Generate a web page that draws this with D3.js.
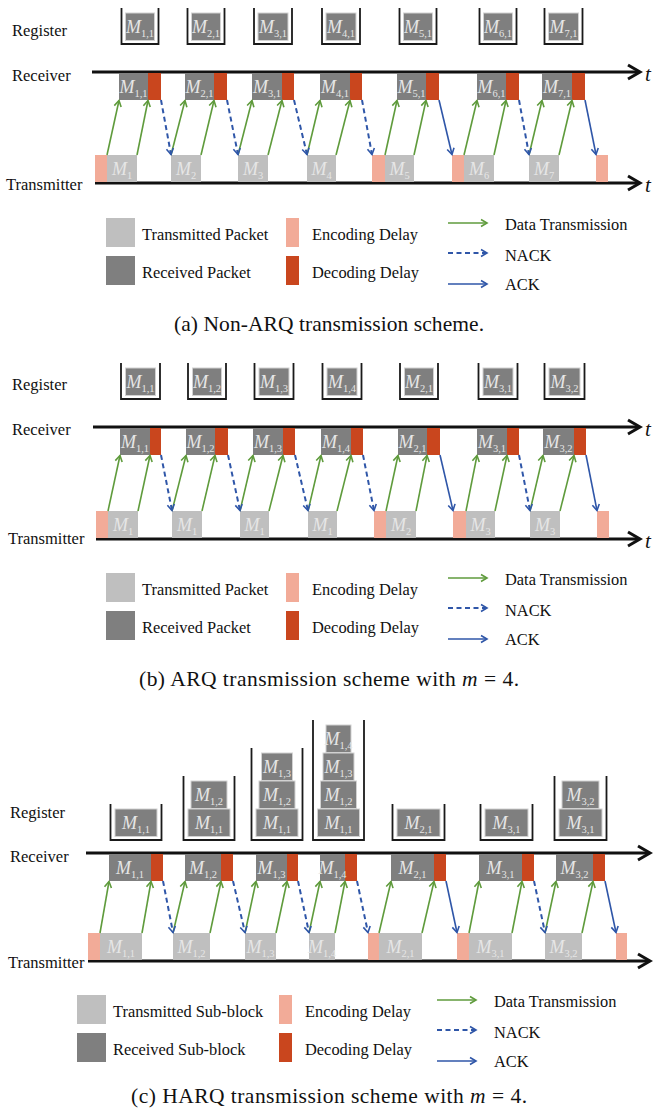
<!DOCTYPE html>
<html>
<head>
<meta charset="utf-8">
<script src="https://cdn.jsdelivr.net/npm/d3@7"></script>
<style>
  body { margin: 0; background: #fff; }
  svg { display: block; }
  text { font-family: "Liberation Serif", "Times New Roman", "DejaVu Serif", serif; }
</style>
</head>
<body>
<svg id="fig" width="654" height="1113" font-family="Liberation Serif, Times New Roman, serif"></svg>
<script>
// ---------- (a) Non-ARQ transmission ----------
const aEncode   = [[7, 19], [284, 297], [364, 376], [508, 520]];
const aTxSub    = ["1", "2", "3", "4", "5", "6", "7"];
const aTxStart  = [19, 83, 150, 219, 297, 376, 441];
const aTxEnd    = [49, 113, 180, 248, 326, 406, 471];
const aRxSub    = ["1,1", "2,1", "3,1", "4,1", "5,1", "6,1", "7,1"];
const aRxStart  = [31, 97, 164, 232, 309, 389, 454];
const aRxEnd    = [60, 126, 194, 262, 338, 418, 484];
const aDecEnd   = [73, 139, 206, 274, 351, 431, 497];
const aFeedback = ["NACK", "NACK", "NACK", "NACK", "ACK", "NACK", "ACK"];
const aRegister = [["1,1"], ["2,1"], ["3,1"], ["4,1"], ["5,1"], ["6,1"], ["7,1"]];

// ---------- (b) ARQ transmission, m = 4 ----------
const bEncode   = [[8, 20], [286, 298], [365, 378], [509, 521]];
const bTxSub    = ["1", "1", "1", "1", "2", "3", "3"];
const bTxStart  = [20, 84, 152, 220, 298, 378, 442];
const bTxEnd    = [50, 114, 181, 249, 328, 407, 472];
const bRxSub    = ["1,1", "1,2", "1,3", "1,4", "2,1", "3,1", "3,2"];
const bRxStart  = [32, 98, 165, 233, 310, 389, 455];
const bRxEnd    = [62, 127, 195, 263, 339, 419, 486];
const bDecEnd   = [73, 140, 207, 275, 352, 431, 498];
const bFeedback = ["NACK", "NACK", "NACK", "NACK", "ACK", "NACK", "ACK"];
const bRegister = [["1,1"], ["1,2"], ["1,3"], ["1,4"], ["2,1"], ["3,1"], ["3,2"]];

// ---------- (c) HARQ transmission, m = 4 ----------
const cEncode   = [[0, 12], [280, 291], [369, 381], [528, 539]];
const cTxSub    = ["1,1", "1,2", "1,3", "1,4", "2,1", "3,1", "3,2"];
const cTxStart  = [12, 85, 157, 221, 291, 381, 457];
const cTxEnd    = [54, 122, 188, 247, 334, 424, 494];
const cRxSub    = ["1,1", "1,2", "1,3", "1,4", "2,1", "3,1", "3,2"];
const cRxStart  = [21, 97, 168, 232, 303, 391, 468];
const cRxEnd    = [63, 133, 199, 257, 346, 434, 505];
const cDecEnd   = [75, 145, 210, 269, 358, 446, 517];
const cFeedback = ["NACK", "NACK", "NACK", "NACK", "ACK", "NACK", "ACK"];
const cRegister = [["1,1"], ["1,1", "1,2"], ["1,1", "1,2", "1,3"], ["1,1", "1,2", "1,3", "1,4"],
                   ["2,1"], ["3,1"], ["3,1", "3,2"]];

// ---------- text ----------
const rowLabels         = ["Register", "Receiver", "Transmitter"];
const packetLegend      = ["Transmitted Packet", "Received Packet"];
const subBlockLegend    = ["Transmitted Sub-block", "Received Sub-block"];
const delayLegend       = ["Encoding Delay", "Decoding Delay"];
const arrowLegend       = ["Data Transmission", "NACK", "ACK"];
const captionA = [["(a) Non-ARQ transmission scheme.", false]];
const captionB = [["(b) ARQ transmission scheme with ", false], ["m", true], [" = 4.", false]];
const captionC = [["(c) HARQ transmission scheme with ", false], ["m", true], [" = 4.", false]];

const FONT = "Liberation Serif, Times New Roman, serif";
const C = {
  tx: "#bfbfbf", rx: "#7f7f7f", enc: "#f2ab98", dec: "#c9461e",
  green: "#5f9b3c", blue: "#2f56a8", boxText: "#e6e6e6", ink: "#111"
};

const svg = d3.select("#fig");
const defs = svg.append("defs");
function addMarker(id, color) {
  defs.append("marker")
    .attr("id", id).attr("viewBox", "-8 -5 10 10")
    .attr("refX", 0).attr("refY", 0)
    .attr("markerWidth", 10).attr("markerHeight", 10)
    .attr("markerUnits", "userSpaceOnUse").attr("orient", "auto")
    .append("path").attr("d", "M-6,-3.5L0,0L-6,3.5")
    .attr("fill", "none").attr("stroke", color).attr("stroke-width", 1.6)
    .attr("stroke-linejoin", "miter");
}
addMarker("head-green", C.green);
addMarker("head-blue", C.blue);

const x = d3.scaleLinear().domain([0, 552]).range([88, 640]);
const BOX_H = 27, STACK_H = 28;

function mLabel(g, cx, y, sub, size) {
  const t = g.append("text").attr("x", cx).attr("y", y).attr("font-family", FONT)
    .attr("text-anchor", "middle").attr("fill", C.boxText);
  t.append("tspan").attr("font-style", "italic").attr("font-size", size).text("M");
  t.append("tspan").attr("font-size", size * 0.58).attr("dy", size * 0.26).text(sub);
}

function timeAxis(g, t0, t1, y, showT) {
  const xs = x(t0), xe = x(t1);
  g.append("line").attr("x1", xs).attr("x2", xe - 1).attr("y1", y).attr("y2", y)
    .attr("stroke", C.ink).attr("stroke-width", 3);
  g.append("path").attr("d", `M${xe - 12},${y - 7}L${xe},${y}L${xe - 12},${y + 7}`)
    .attr("fill", "none").attr("stroke", C.ink).attr("stroke-width", 3)
    .attr("stroke-linejoin", "miter");
  if (showT) {
    g.append("text").attr("x", xe + 5).attr("y", y + 9).attr("font-family", FONT)
      .attr("font-style", "italic").attr("font-size", 21).attr("fill", C.ink).text("t");
  }
}

function drawPanel(P) {
  const g = svg.append("g");
  const L = P.layout;

  // row labels
  [L.regLabel, L.rxLabel, L.txLabel].forEach((p, i) => {
    g.append("text").attr("x", p[0]).attr("y", p[1]).attr("font-family", FONT)
      .attr("font-size", 16.5).attr("fill", C.ink).text(rowLabels[i]);
  });

  timeAxis(g, L.rxAxis[0], L.rxAxis[1], L.rxLine, L.showT);
  timeAxis(g, L.txAxis[0], L.txAxis[1], L.txLine, L.showT);

  const rxTop = L.rxLine + 1, rxBottom = rxTop + BOX_H;
  const txBottom = L.txLine - 1, txTop = txBottom - BOX_H;

  // width of each received sub-block, reused in the register
  const widthOf = {};
  P.rxSub.forEach((s, i) => {
    if (!(s in widthOf)) widthOf[s] = x(P.rxEnd[i]) - x(P.rxStart[i]);
  });

  // register buckets
  P.register.forEach((stack, i) => {
    const cx = x((P.rxStart[i] + P.decEnd[i]) / 2);
    const maxW = d3.max(stack, s => widthOf[s]);
    stack.forEach((s, k) => {
      const w = widthOf[s];
      const yTop = L.regBoxBottom - (k + 1) * STACK_H;
      g.append("rect").attr("x", cx - w / 2).attr("y", yTop).attr("width", w).attr("height", STACK_H - 0.5)
        .attr("fill", C.rx).attr("stroke", "#d2d2d2").attr("stroke-width", 1);
      mLabel(g, cx, yTop + 19.5, s, 18);
    });
    const pad = L.bucketPad;
    const bl = cx - maxW / 2 - pad, br = cx + maxW / 2 + pad;
    const bt = L.regBoxBottom - stack.length * STACK_H - 5, bb = L.regBoxBottom + 3;
    g.append("path").attr("d", `M${bl},${bt}V${bb}H${br}V${bt}`)
      .attr("fill", "none").attr("stroke", "#1a1a1a").attr("stroke-width", 1.8);
  });

  // encoding delays at the transmitter
  P.encode.forEach(e => {
    g.append("rect").attr("x", x(e[0])).attr("y", txTop)
      .attr("width", x(e[1]) - x(e[0])).attr("height", BOX_H).attr("fill", C.enc);
  });

  // transmitted packets / sub-blocks
  P.txSub.forEach((s, i) => {
    const x0 = x(P.txStart[i]), x1 = x(P.txEnd[i]);
    g.append("rect").attr("x", x0).attr("y", txTop).attr("width", x1 - x0).attr("height", BOX_H)
      .attr("fill", C.tx);
    mLabel(g, (x0 + x1) / 2, txTop + 19.5, s, 18);
  });

  // received packets and decoding delays
  P.rxSub.forEach((s, i) => {
    const x0 = x(P.rxStart[i]), x1 = x(P.rxEnd[i]), x2 = x(P.decEnd[i]);
    g.append("rect").attr("x", x0).attr("y", rxTop).attr("width", x1 - x0).attr("height", BOX_H)
      .attr("fill", C.rx);
    g.append("rect").attr("x", x1).attr("y", rxTop).attr("width", x2 - x1).attr("height", BOX_H)
      .attr("fill", C.dec);
    mLabel(g, (x0 + x1) / 2, rxTop + 19.5, s, 18);
  });

  // data transmission arrows
  P.txSub.forEach((s, i) => {
    [[P.txStart[i], P.rxStart[i]], [P.txEnd[i], P.rxEnd[i]]].forEach(([a, b]) => {
      g.append("line").attr("x1", x(a)).attr("y1", txTop).attr("x2", x(b)).attr("y2", rxBottom + 0.5)
        .attr("stroke", C.green).attr("stroke-width", 1.6).attr("marker-end", "url(#head-green)");
    });
  });

  // feedback arrows: to the next transmitter event
  const events = P.encode.map(e => e[0]).concat(P.txStart).sort((a, b) => a - b);
  P.feedback.forEach((f, i) => {
    const t0 = P.decEnd[i];
    const t1 = events.find(t => t > t0);
    g.append("line").attr("x1", x(t0)).attr("y1", rxBottom).attr("x2", x(t1)).attr("y2", txTop - 0.5)
      .attr("stroke", C.blue).attr("stroke-width", f === "NACK" ? 2 : 1.6)
      .attr("stroke-dasharray", f === "NACK" ? "5,3.5" : null)
      .attr("marker-end", "url(#head-blue)");
  });

  // legend
  const G = P.legend, top = G.top;
  const boxNames = P.subBlocks ? subBlockLegend : packetLegend;
  [[C.tx, boxNames[0], 0], [C.rx, boxNames[1], 38]].forEach(([c, t, dy]) => {
    g.append("rect").attr("x", G.sq).attr("y", top + dy).attr("width", 29).attr("height", 29).attr("fill", c);
    g.append("text").attr("x", G.sq + 36).attr("y", top + dy + 22).attr("font-family", FONT)
      .attr("font-size", 16.4).attr("fill", C.ink).text(t);
  });
  [[C.enc, delayLegend[0], 0], [C.dec, delayLegend[1], 38]].forEach(([c, t, dy]) => {
    g.append("rect").attr("x", G.bar).attr("y", top + dy).attr("width", 13).attr("height", 29).attr("fill", c);
    g.append("text").attr("x", G.bar + 26).attr("y", top + dy + 22).attr("font-family", FONT)
      .attr("font-size", 16.4).attr("fill", C.ink).text(t);
  });
  [[C.green, "head-green", null, 5, 12], [C.blue, "head-blue", "5,3.5", 35, 43], [C.blue, "head-blue", null, 66, 72]]
    .forEach(([c, m, dash, dy, ty], k) => {
      g.append("line").attr("x1", G.arrow).attr("x2", G.arrow + 39).attr("y1", top + dy).attr("y2", top + dy)
        .attr("stroke", c).attr("stroke-width", dash ? 2 : 1.6).attr("stroke-dasharray", dash)
        .attr("marker-end", `url(#${m})`);
      g.append("text").attr("x", G.arrow + 57).attr("y", top + ty).attr("font-family", FONT)
        .attr("font-size", 16.4).attr("fill", C.ink).text(arrowLegend[k]);
    });

  // caption
  const cap = g.append("text").attr("x", 329).attr("y", L.caption).attr("text-anchor", "middle")
    .attr("font-family", FONT).attr("font-size", 21.5).attr("fill", C.ink)
    .attr("textLength", L.captionLen).attr("lengthAdjust", "spacing");
  P.caption.forEach(([s, it]) => {
    cap.append("tspan").attr("font-style", it ? "italic" : null).text(s);
  });
}

drawPanel({
  encode: aEncode, txSub: aTxSub, txStart: aTxStart, txEnd: aTxEnd,
  rxSub: aRxSub, rxStart: aRxStart, rxEnd: aRxEnd, decEnd: aDecEnd,
  feedback: aFeedback, register: aRegister, caption: captionA, subBlocks: false,
  layout: { regLabel: [12, 36], rxLabel: [12, 81], txLabel: [6, 190],
            rxLine: 72, txLine: 183, rxAxis: [4, 552], txAxis: [7, 552], showT: true,
            regBoxBottom: 41, bucketPad: 4, caption: 331, captionLen: 310 },
  legend: { top: 218, sq: 106, bar: 286, arrow: 448 }
});

drawPanel({
  encode: bEncode, txSub: bTxSub, txStart: bTxStart, txEnd: bTxEnd,
  rxSub: bRxSub, rxStart: bRxStart, rxEnd: bRxEnd, decEnd: bDecEnd,
  feedback: bFeedback, register: bRegister, caption: captionB, subBlocks: false,
  layout: { regLabel: [12, 390], rxLabel: [12, 435], txLabel: [8, 544],
            rxLine: 427, txLine: 539, rxAxis: [5, 552], txAxis: [8, 552], showT: true,
            regBoxBottom: 396, bucketPad: 4.5, caption: 686, captionLen: 380 },
  legend: { top: 573, sq: 106, bar: 286, arrow: 448 }
});

drawPanel({
  encode: cEncode, txSub: cTxSub, txStart: cTxStart, txEnd: cTxEnd,
  rxSub: cRxSub, rxStart: cRxStart, rxEnd: cRxEnd, decEnd: cDecEnd,
  feedback: cFeedback, register: cRegister, caption: captionC, subBlocks: true,
  layout: { regLabel: [10, 818], rxLabel: [10, 862], txLabel: [8, 968],
            rxLine: 853, txLine: 961, rxAxis: [-2, 562], txAxis: [0, 562], showT: false,
            regBoxBottom: 837, bucketPad: 4.5, caption: 1103, captionLen: 396 },
  legend: { top: 995, sq: 77, bar: 279, arrow: 437 }
});
</script>
</body>
</html>
